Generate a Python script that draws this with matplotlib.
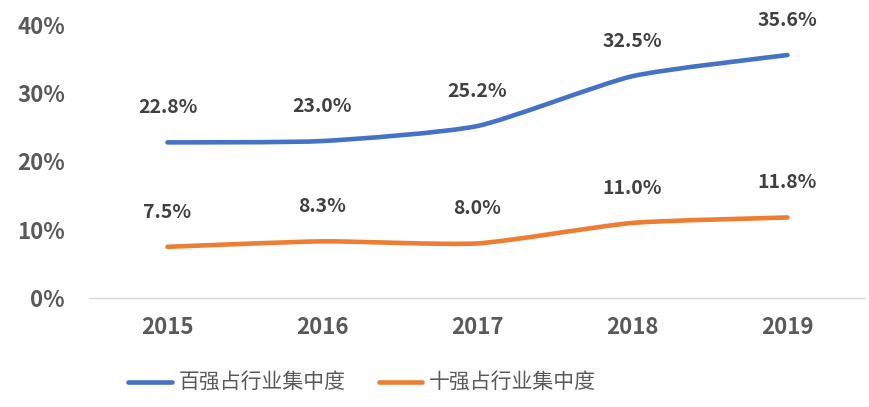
import numpy as np
import matplotlib.pyplot as plt
from matplotlib.path import Path
from matplotlib.patches import PathPatch
from matplotlib.lines import Line2D

plt.rcParams['font.family'] = ['Noto Sans CJK SC', 'DejaVu Sans']

years = ['2015', '2016', '2017', '2018', '2019']
top100 = [22.8, 23.0, 25.2, 32.5, 35.6]
top10 = [7.5, 8.3, 8.0, 11.0, 11.8]
names = ['百强占行业集中度', '十强占行业集中度']
colors = ['#4472c4', '#ed7d31']


def smooth_path(xs, ys, k=10.0):
    # gentle bezier smoothing, close to excel's smoothed line
    pts = np.column_stack([xs, ys]).astype(float)
    verts = [pts[0]]
    codes = [Path.MOVETO]
    n = len(pts)
    for i in range(n - 1):
        p0 = pts[max(i - 1, 0)]
        p1 = pts[i]
        p2 = pts[i + 1]
        p3 = pts[min(i + 2, n - 1)]
        verts += [p1 + (p2 - p0) / k, p2 - (p3 - p1) / k, p2]
        codes += [Path.CURVE4] * 3
    return Path(verts, codes)


fig = plt.figure(figsize=(8.7, 4.07), dpi=100)
ax = fig.add_axes([90 / 870, 1 - 298 / 407, 775 / 870, 273 / 407])

x = np.arange(len(years))
for vals, c in zip([top100, top10], colors):
    patch = PathPatch(smooth_path(x, vals), fill=False, edgecolor=c,
                      linewidth=3.3, capstyle='round', joinstyle='round')
    ax.add_patch(patch)
    for xi, v in zip(x, vals):
        ax.annotate(f'{v:.1f}%', (xi, v), xytext=(0, 25), textcoords='offset points',
                    ha='center', va='center', fontsize=14, fontweight='bold',
                    color='#404040')

ax.set_xlim(-0.5, len(years) - 0.5)
ax.set_ylim(0, 40)
ax.set_yticks([0, 10, 20, 30, 40])
ax.set_yticklabels([f'{t}%' for t in [0, 10, 20, 30, 40]])
ax.set_xticks(x)
ax.set_xticklabels(years)
for lab in ax.get_xticklabels() + ax.get_yticklabels():
    lab.set_fontweight('bold')
    lab.set_fontsize(16)
    lab.set_color('#595959')
ax.tick_params(axis='x', length=0, pad=13)
ax.tick_params(axis='y', length=0, pad=18)
for s in ['top', 'right', 'left']:
    ax.spines[s].set_visible(False)
ax.spines['bottom'].set_color('#d9d9d9')
ax.spines['bottom'].set_linewidth(1)

handles = [Line2D([], [], color=c, linewidth=3.3, solid_capstyle='round') for c in colors]
fig.legend(handles, names, loc='center', bbox_to_anchor=(362 / 870, 1 - 383 / 407),
           ncol=2, frameon=False, fontsize=15, handlelength=2.1, handletextpad=0.3,
           columnspacing=1.6, labelcolor='#595959')

fig.savefig('out.png', dpi=100)
